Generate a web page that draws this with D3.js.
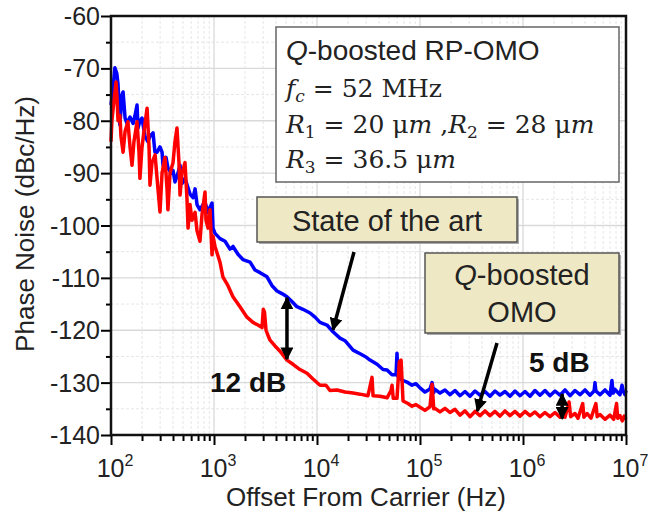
<!DOCTYPE html>
<html>
<head>
<meta charset="utf-8">
<script src="https://cdn.jsdelivr.net/npm/d3@7"></script>
<style>
    body { margin: 0; background: #fff; }
    text { font-family: "Liberation Sans", Arial, sans-serif; }
</style>
</head>
<body>
<div id="chart"></div>
<script>

// blue trace, [offset Hz, dBc/Hz]
var stateOfArt = [
    [100,-77],[104.5,-74],[109,-69.9],[114,-71],[117,-73],[122,-80.8],[128,-75],[131,-74.5],[137,-79.5],[143,-80.5],
    [153,-79.3],[164,-80.5],[171,-79],[179,-77],[183,-81.4],[191,-80],[200,-79.5],[214,-83],[228,-84],[239,-83],
    [256,-82.3],[267,-86],[280,-86],[299,-85],[313,-86],[320,-88.5],[342,-87],[357,-89],[383,-90],[400,-89.5],
    [418,-91.7],[447,-90],[468,-88.5],[489,-92],[523,-91],[560,-92.8],[585,-94],[626,-94.7],[655,-93],[684,-96],
    [731,-97],[782,-96],[818,-95.5],[875,-97.5],[915,-96.5],[957,-95.7],[978,-100.5],[1023,-101.5],
    [1144,-102.5],[1280,-103],[1430,-104.5],[1530,-104],[1710,-105.5],[1910,-106.5],[2240,-107],[2500,-108.5],
    [2800,-109],[3270,-109.8],[3660,-111.5],[4090,-112.5],[4570,-113],[5110,-113.6],[5710,-114.5],[6380,-115.5],
    [7300,-116],[8560,-116.7],[9570,-117.5],[10700,-118.5],[12500,-119],[14300,-120.3],[16700,-121.5],[18700,-122],
    [22400,-123.8],[26200,-124.5],[29300,-125],[32700,-125.7],[38300,-126.5],[43800,-127.5],[47900,-127.6],
    [53500,-128.5],[58500,-128.5],[59800,-124.4],[61100,-128.8],[66800,-129.5],[74700,-129.9],[83600,-130.5],
    [91400,-130.2],[1.00e5,-131],[1.118e5,-131.8],[1.251e5,-131.2],[1.31e5,-130],[1.36e5,-131.9],[1.398e5,-131.3],
    [1.564e5,-132],[1.748e5,-131.4],[1.956e5,-132.3],[2.187e5,-131.5],[2.445e5,-132.5],[2.734e5,-131.7],
    [3.057e5,-132.6],[3.42e5,-131.6],[3.824e5,-132.4],[4.276e5,-131.7],[4.781e5,-132.6],[5.348e5,-131.6],
    [5.979e5,-132.4],[6.686e5,-131.7],[7.478e5,-132.6],[8.363e5,-131.6],[9.352e5,-132.5],[1.046e6,-131.7],
    [1.169e6,-132.6],[1.308e6,-131.5],[1.462e6,-132.4],[1.635e6,-131.5],[1.829e6,-132.5],[2.045e6,-131.6],
    [2.287e6,-132.4],[2.558e6,-131.4],[2.86e6,-132.5],[3.198e6,-131.5],[3.576e6,-132.3],[3.999e6,-131.4],
    [4.472e6,-132.4],[4.9e6,-131.6],[5.0e6,-130],[5.1e6,-131.6],[5.592e6,-132.3],[6.253e6,-131.4],[6.993e6,-132.4],
    [7.3e6,-129.6],[7.5e6,-132],[7.82e6,-131.3],[8.744e6,-132.3],[9.14e6,-130.5],[9.4e6,-131.6],[9.779e6,-132.3],
    [1e7,-131.5]
];

// red trace, [offset Hz, dBc/Hz]
var qBoosted = [
    [100,-84],[102,-80],[107,-76],[112,-72.6],[114,-75],[117,-80],[122,-79],[125,-83],[131,-86],[137,-82],
    [146,-80.2],[153,-85],[160,-88.5],[167,-84],[179,-80.2],[187,-86],[191,-91],[200,-85],[209,-82],[224,-77.6],
    [234,-85],[239,-92.3],[250,-88],[268,-86.5],[280,-91],[299,-97.4],[313,-90],[334,-87],[350,-93],[357,-97],
    [374,-90],[400,-88],[418,-84],[437,-81.4],[457,-88],[468,-94.2],[489,-90],[523,-88],[547,-95],[560,-100.5],
    [585,-96],[611,-99],[655,-97.5],[684,-101],[731,-103],[764,-98],[818,-93.6],[836,-99],[875,-100.5],[915,-97],
    [957,-105.6],[978,-102],[1023,-104],[1143,-107],[1220,-109.8],[1367,-111.5],[1528,-113.6],[1787,-115.5],
    [2090,-117.5],[2390,-118.5],[2673,-119],[2926,-119.5],[3010,-116],[3090,-116.5],[3200,-120],[3345,-121],
    [3500,-121.9],[3910,-123],[4376,-124],[5110,-125.7],[5848,-126.5],[6839,-127.5],[8000,-128.2],[9140,-129.3],
    [10700,-130.5],[12220,-130.5],[13360,-131.5],[15630,-131.4],[18700,-131.8],[22400,-132],[26200,-132.2],
    [31260,-132.5],[34200,-129],[35000,-132.5],[40900,-132.6],[47900,-132.9],[52300,-131.5],[53500,-130.5],
    [55000,-133],[59800,-133],[63000,-126],[65500,-125.7],[68400,-133.5],[76400,-134],[83600,-134.5],[91400,-134.2],
    [1.00e5,-134.7],[1.118e5,-135.3],[1.251e5,-134.6],[1.31e5,-130.3],[1.36e5,-135],[1.398e5,-134.9],
    [1.564e5,-135.6],[1.748e5,-134.9],[1.956e5,-135.7],[2.187e5,-135.1],[2.445e5,-136.2],[2.734e5,-135.4],
    [3.057e5,-136.5],[3.42e5,-135.5],[3.824e5,-136.3],[4.276e5,-135.4],[4.781e5,-136.3],[5.348e5,-135.5],
    [5.979e5,-136.4],[6.686e5,-135.4],[7.478e5,-136.3],[8.363e5,-135.5],[9.352e5,-136.4],[1.046e6,-135.5],
    [1.169e6,-136.3],[1.308e6,-135.6],[1.462e6,-136.5],[1.635e6,-135.7],[1.829e6,-136.5],[2.045e6,-135.7],
    [2.287e6,-136.6],[2.44e6,-135.9],[2.558e6,-136.6],[2.8e6,-133.7],[2.9e6,-136.5],[3.198e6,-135.9],
    [3.42e6,-136.8],[3.8e6,-134],[3.9e6,-136.6],[4.2e6,-135.9],[4.572e6,-136.8],[5.1e6,-134],[5.25e6,-136.5],
    [5.592e6,-136.1],[6.253e6,-137],[6.993e6,-136.2],[7.6e6,-137],[8.1e6,-134],[8.3e6,-136.8],[8.744e6,-136.3],
    [9.2e6,-137.3],[9.6e6,-136.4],[1e7,-137]
];

var yTicks = [-140, -130, -120, -110, -100, -90, -80, -70, -60];
var xDecades = [2, 3, 4, 5, 6, 7];

var width = 658, height = 514;
var padL = 111, padR = 626, padT = 16, padB = 435;

var x = d3.scaleLog().domain([1e2, 1e7]).range([padL, padR]);
var y = d3.scaleLinear().domain([-140, -60]).range([padB, padT]);

var svg = d3.select("#chart").append("svg")
    .attr("width", width)
    .attr("height", height);

// grid
var minorX = [];
xDecades.slice(0, -1).forEach(function(p) {
    for (var k = 2; k <= 9; k++) minorX.push(k * Math.pow(10, p));
});
var minorY = d3.range(-135, -60, 10);

var grid = svg.append("g");
grid.selectAll(".mx").data(minorX).enter().append("line")
    .attr("x1", function(d) { return x(d); }).attr("x2", function(d) { return x(d); })
    .attr("y1", padT).attr("y2", padB)
    .attr("stroke", "#e6e6e6").attr("stroke-width", 1).attr("stroke-dasharray", "3,2");
grid.selectAll(".my").data(minorY).enter().append("line")
    .attr("x1", padL).attr("x2", padR)
    .attr("y1", function(d) { return y(d); }).attr("y2", function(d) { return y(d); })
    .attr("stroke", "#e6e6e6").attr("stroke-width", 1).attr("stroke-dasharray", "3,2");
grid.selectAll(".gx").data(xDecades.slice(1, -1)).enter().append("line")
    .attr("x1", function(d) { return x(Math.pow(10, d)); }).attr("x2", function(d) { return x(Math.pow(10, d)); })
    .attr("y1", padT).attr("y2", padB)
    .attr("stroke", "#d9d9d9").attr("stroke-width", 1.3);
grid.selectAll(".gy").data(yTicks.slice(1, -1)).enter().append("line")
    .attr("x1", padL).attr("x2", padR)
    .attr("y1", function(d) { return y(d); }).attr("y2", function(d) { return y(d); })
    .attr("stroke", "#d9d9d9").attr("stroke-width", 1.3);

// traces
var line = d3.line()
    .x(function(d) { return x(d[0]); })
    .y(function(d) { return y(d[1]); });

svg.append("path").datum(stateOfArt)
    .attr("d", line)
    .attr("fill", "none")
    .attr("stroke", "#0000ff")
    .attr("stroke-width", 3.5)
    .attr("stroke-linejoin", "round");

svg.append("path").datum(qBoosted)
    .attr("d", line)
    .attr("fill", "none")
    .attr("stroke", "#ff0000")
    .attr("stroke-width", 3.5)
    .attr("stroke-linejoin", "round");

// axes
var yAxis = d3.axisLeft(y).tickValues(d3.range(-140, -59, 5)).tickSize(10).tickFormat("");
var gy = svg.append("g").attr("transform", "translate(" + padL + ",0)").call(yAxis);
gy.selectAll(".tick line")
    .attr("x2", function(d) { return d % 10 === 0 ? -10 : -5; })
    .attr("stroke-width", 2);

var xTickVals = [];
xDecades.forEach(function(p, i) {
    xTickVals.push(Math.pow(10, p));
    if (i < xDecades.length - 1) {
        for (var k = 2; k <= 9; k++) xTickVals.push(k * Math.pow(10, p));
    }
});
var xAxis = d3.axisBottom(x).tickValues(xTickVals).tickSize(10).tickFormat("");
var gx = svg.append("g").attr("transform", "translate(0," + padB + ")").call(xAxis);
gx.selectAll(".tick line")
    .attr("y2", function(d) { return Math.abs(Math.log10(d) % 1) < 1e-9 ? 10 : 6; })
    .attr("stroke-width", 2);

svg.selectAll(".domain").remove();
svg.append("path")
    .attr("d", "M" + padL + "," + padB + "V" + padT + "H" + padR + "V" + padB + "Z")
    .attr("fill", "none").attr("stroke", "#111").attr("stroke-width", 2.5);

// tick labels
svg.selectAll(".ylab").data(yTicks).enter().append("text")
    .attr("x", padL - 11)
    .attr("y", function(d) { return y(d) + 9; })
    .attr("text-anchor", "end")
    .attr("font-size", 25)
    .attr("fill", "#222")
    .text(function(d) { return d; });

var xl = svg.selectAll(".xlab").data(xDecades).enter().append("text")
    .attr("x", function(d) { return x(Math.pow(10, d)) + 4; })
    .attr("y", 477)
    .attr("text-anchor", "middle")
    .attr("font-size", 25)
    .attr("fill", "#222");
xl.append("tspan").text("10");
xl.append("tspan").attr("dy", -11).attr("font-size", 16).text(function(d) { return d; });

// axis titles
svg.append("text")
    .attr("x", 366).attr("y", 506)
    .attr("text-anchor", "middle")
    .attr("font-size", 26)
    .attr("fill", "#222")
    .text("Offset From Carrier (Hz)");

svg.append("text")
    .attr("transform", "translate(34,224) rotate(-90)")
    .attr("text-anchor", "middle")
    .attr("font-size", 26)
    .attr("fill", "#222")
    .text("Phase Noise (dBc/Hz)");

// info box
svg.append("rect")
    .attr("x", 276).attr("y", 27).attr("width", 343).attr("height", 155)
    .attr("fill", "#fff").attr("stroke", "#666").attr("stroke-width", 1.5);

var t1 = svg.append("text").attr("x", 286).attr("y", 60).attr("font-size", 28).attr("fill", "#222");
t1.append("tspan").attr("font-style", "italic").text("Q");
t1.append("tspan").text("-boosted RP-OMO");

var serif = "'DejaVu Serif', 'Liberation Serif', serif";
var t2 = svg.append("text").attr("x", 286).attr("y", 97).attr("font-size", 25)
    .style("font-family", serif).attr("fill", "#222");
t2.append("tspan").attr("font-style", "italic").text("f");
t2.append("tspan").attr("font-style", "italic").attr("font-size", 17).attr("dy", 5).text("c");
t2.append("tspan").attr("dy", -5).text(" = 52 MHz");

var t3 = svg.append("text").attr("x", 286).attr("y", 133).attr("font-size", 25)
    .style("font-family", serif).attr("fill", "#222");
t3.append("tspan").attr("font-style", "italic").text("R");
t3.append("tspan").attr("font-size", 17).attr("dy", 5).text("1");
t3.append("tspan").attr("dy", -5).text(" = 20 μ");
t3.append("tspan").attr("font-style", "italic").text("m");
t3.append("tspan").text(" ,");
t3.append("tspan").attr("font-style", "italic").text("R");
t3.append("tspan").attr("font-size", 17).attr("dy", 5).text("2");
t3.append("tspan").attr("dy", -5).text(" = 28 μ");
t3.append("tspan").attr("font-style", "italic").text("m");

var t4 = svg.append("text").attr("x", 286).attr("y", 168).attr("font-size", 25)
    .style("font-family", serif).attr("fill", "#222");
t4.append("tspan").attr("font-style", "italic").text("R");
t4.append("tspan").attr("font-size", 17).attr("dy", 5).text("3");
t4.append("tspan").attr("dy", -5).text(" = 36.5 μ");
t4.append("tspan").attr("font-style", "italic").text("m");

// callout boxes
var beige = "#eee8c4";
function callout(bx, by, bw, bh) {
    svg.append("rect")
        .attr("x", bx + 2).attr("y", by + 2).attr("width", bw).attr("height", bh)
        .attr("fill", "#aaa");
    svg.append("rect")
        .attr("x", bx).attr("y", by).attr("width", bw).attr("height", bh)
        .attr("fill", beige).attr("stroke", "#555").attr("stroke-width", 1.5);
}

callout(257, 197, 260, 45);
svg.append("text")
    .attr("x", 387).attr("y", 231)
    .attr("text-anchor", "middle").attr("font-size", 29).attr("fill", "#222")
    .text("State of the art");

callout(425, 253, 194, 80);
var qb = svg.append("text")
    .attr("x", 522).attr("y", 285)
    .attr("text-anchor", "middle").attr("font-size", 29).attr("fill", "#222");
qb.append("tspan").attr("font-style", "italic").text("Q");
qb.append("tspan").text("-boosted");
svg.append("text")
    .attr("x", 522).attr("y", 322)
    .attr("text-anchor", "middle").attr("font-size", 29).attr("fill", "#222")
    .text("OMO");

// arrows
var defs = svg.append("defs");
defs.append("marker")
    .attr("id", "head")
    .attr("viewBox", "0 0 10 10")
    .attr("refX", 9).attr("refY", 5)
    .attr("markerUnits", "userSpaceOnUse")
    .attr("markerWidth", 13).attr("markerHeight", 13)
    .attr("orient", "auto-start-reverse")
    .append("path").attr("d", "M0,0L10,5L0,10Z").attr("fill", "#000");

function arrow(x1, y1, x2, y2, both) {
    var p = svg.append("line")
        .attr("x1", x1).attr("y1", y1).attr("x2", x2).attr("y2", y2)
        .attr("stroke", "#000").attr("stroke-width", 3.5)
        .attr("marker-end", "url(#head)");
    if (both) p.attr("marker-start", "url(#head)");
}

arrow(354, 252, x(14300), y(-120.3) - 2);
arrow(497, 343, x(3.6e5), y(-135.8) - 2);
arrow(x(5110), y(-113.6) + 1, x(5110), y(-125.7) - 1, true);
arrow(x(2.4e6), y(-132) + 1, x(2.4e6), y(-136.5) + 2, true);

svg.append("text")
    .attr("x", 210).attr("y", 392)
    .attr("font-size", 28).attr("font-weight", "bold").attr("fill", "#111")
    .text("12 dB");
svg.append("text")
    .attr("x", 529).attr("y", 372)
    .attr("font-size", 28).attr("font-weight", "bold").attr("fill", "#111")
    .text("5 dB");

</script>
</body>
</html>
